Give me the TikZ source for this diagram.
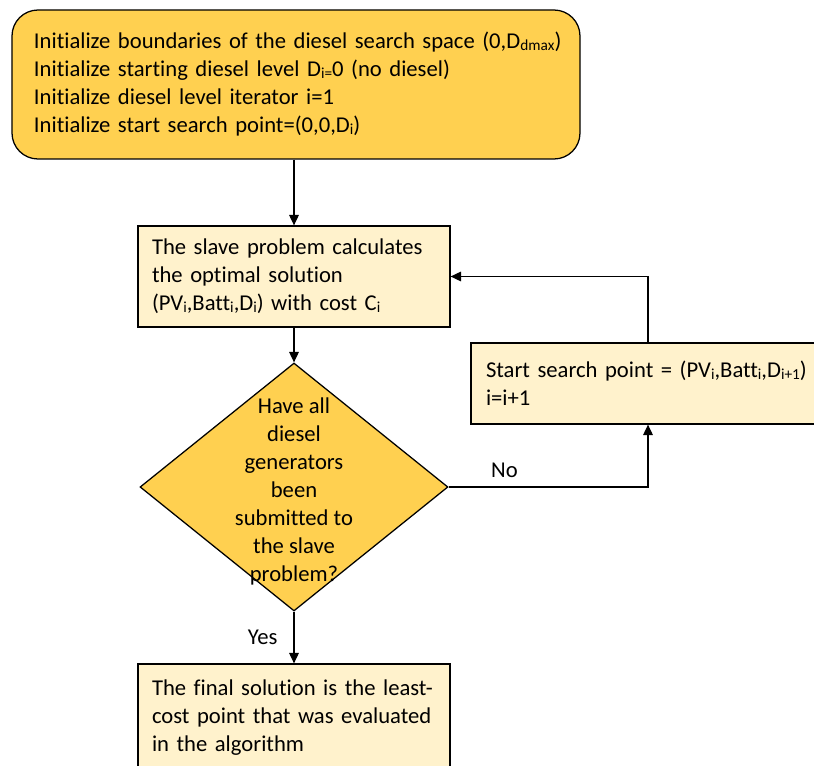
\documentclass[tikz,border=0pt]{standalone}
\usepackage{fontspec}
\setmainfont{Carlito}[Ligatures=NoCommon]
\usetikzlibrary{shapes.geometric,arrows.meta,positioning}

\definecolor{gold}{HTML}{FFD050}
\definecolor{cream}{HTML}{FFF2CC}
\newcommand{\lo}[1]{\raisebox{-1pt}{\fontsize{10.9}{12}\selectfont #1}}

\begin{document}
\begin{tikzpicture}[>={Triangle[length=2.6mm,width=2.4mm]}, line width=0.9pt,
    every node/.style={font=\fontsize{16.1}{19.9}\selectfont},
    box/.style={draw, fill=cream, rectangle, align=left, inner xsep=0.35cm, inner ysep=0pt}]
      \useasboundingbox (0,0) rectangle (20.35,19.125);

      % Boxes
      \node[draw, fill=gold, rounded corners=0.65cm, align=left, inner xsep=0.55cm,
            minimum width=14.2cm, minimum height=3.725cm, text width=13.1cm] (init) at (7.4, 17.0125)
            {\mbox{Initialize boundaries of the diesel search space (0,D\lo{dmax})}\\
             Initialize starting diesel level D\lo{i=}0 (no diesel)\\
             Initialize diesel level iterator i=1\\
             Initialize start search point=(0,0,D\lo{i})};
      \node[box, minimum width=7.8cm, minimum height=2.525cm, text width=7.1cm] (slave) at (7.35, 12.2125)
            {The slave problem calculates\\ the optimal solution\\ (PV\lo{i},Batt\lo{i},D\lo{i}) with cost C\lo{i}};
      \node[draw, fill=gold, diamond, minimum width=7.7cm, minimum height=6.2cm, inner sep=0pt] (dia) at (7.35, 6.95) {};
      \node[align=center] (ask) at ([yshift=-0.12cm]dia.center)
            {Have all\\ diesel\\ generators\\ been\\ submitted to\\ the slave\\ problem?};
      \node[box, inner xsep=0.375cm, minimum width=9.05cm, minimum height=2.025cm, text width=8.3cm] (next) at (16.3, 9.5375)
            {Start search point = (PV\lo{i},Batt\lo{i},D\lo{i+1})\\ i=i+1};
      \node[box, minimum width=7.8cm, minimum height=2.7cm, text width=7.1cm] (final) at (7.35, 1.175)
            {The final solution is the least-\\ cost point that was evaluated\\ in the algorithm};

      % Arrows
      \coordinate (turn) at (16.2, 6.95);
      \draw[->] (init.south -| slave) -- (slave);
      \draw[->] (slave) -- (dia);
      \draw[->] (dia) -- node[left=0.28cm]{Yes} (final);
      \draw[->] (dia.east) -- node[pos=0.28, above=0.1cm]{No} (turn) -- (turn |- next.south);
      \draw[->] (turn |- next.north) |- (slave.east);
    \end{tikzpicture}
\end{document}
